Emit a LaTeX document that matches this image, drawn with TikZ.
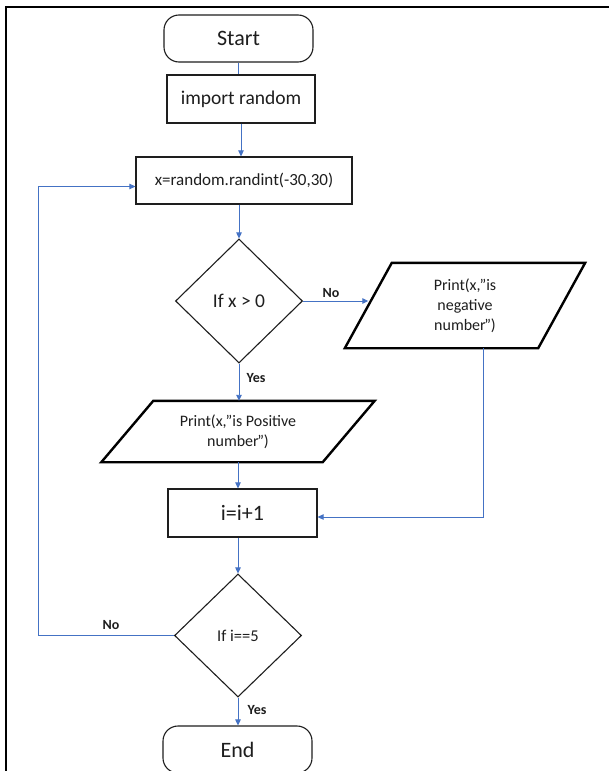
\documentclass[tikz,border=0pt]{standalone}
\usepackage{fontspec}
\setmainfont{Carlito}
\usetikzlibrary{shapes.geometric,arrows.meta}
\definecolor{flowblue}{RGB}{68,114,196}
\definecolor{inkgrey}{RGB}{30,30,30}
\newcommand{\closeq}{\kern-1.5pt”}
\begin{document}
\begin{tikzpicture}[x=1pt,y=-1pt,
  every node/.style={text=inkgrey, inner sep=0pt, align=center},
  term/.style={draw=inkgrey, line width=1.1pt, rounded corners=15pt,
               minimum width=149pt, minimum height=47pt,
               font=\fontsize{22}{26}\selectfont},
  proc/.style={draw=inkgrey, line width=1.2pt, minimum height=48pt},
  decide/.style={diamond, draw=inkgrey, line width=1.1pt,
                 minimum width=127pt, minimum height=124pt},
  iotext/.style={draw=none, font=\fontsize{16}{20}\selectfont},
  iobox/.style={draw=black, line width=2.4pt, line join=miter},
  link/.style={draw=flowblue, line width=0.9pt},
  arrowlink/.style={link, -{Triangle[length=6pt,width=5.5pt]}},
  flag/.style={font=\bfseries\fontsize{14}{16}\selectfont}
]
\useasboundingbox (0,0) rectangle (608,771);
\fill[white] (0,0) rectangle (608,771);

% outer frame (top and left edges)
\draw[line width=2pt, line cap=rect] (6,771) -- (6,7) -- (608,7);

% main column
\node[term] (start) at (238.5,38.5) {Start};
\node[proc, minimum width=148pt, font=\fontsize{19.5}{23}\selectfont]
  (imp) at (241,99) {import random};
\node[proc, minimum width=216pt, minimum height=47pt, font=\fontsize{17}{20}\selectfont]
  (xbox) at (244,180.5) {x=random.randint(-30,30)};
\node[decide, font=\fontsize{19.5}{23}\selectfont] (d1) at (239,301) {If x > 0};

% output parallelograms: text node plus slanted outline
\node[iotext, minimum width=221pt, minimum height=61pt]
  (pos) at (238,431.5) {Print(x,”is Positive\\number\closeq)};
\draw[iobox] ([xshift=26pt]pos.north west) -- ([xshift=26pt]pos.north east)
  -- ([xshift=-26pt]pos.south east) -- ([xshift=-26pt]pos.south west) -- cycle;

\node[iotext, minimum width=193pt, minimum height=85pt]
  (neg) at (465,305.5) {Print(x,”is\\negative\\number\closeq)};
\draw[iobox] ([xshift=23.5pt]neg.north west) -- ([xshift=23.5pt]neg.north east)
  -- ([xshift=-23.5pt]neg.south east) -- ([xshift=-23.5pt]neg.south west) -- cycle;

\node[proc, minimum width=149pt, font=\fontsize{22}{26}\selectfont]
  (inc) at (242.5,513) {i=i+1};
\node[decide, minimum height=123pt, font=\fontsize{16.5}{20}\selectfont]
  (d2) at (238,635.5) {If i==5};
\node[term] (end) at (237.5,749.5) {End};

% connectors
\draw[link] (start.south) -- (start.south |- imp.north);
\draw[arrowlink] (imp.south) -- (imp.south |- xbox.north);
\draw[arrowlink] (d1.north |- xbox.south) -- (d1.north);
\draw[arrowlink] (d1.east) -- (d1.east -| neg.west);
\draw[arrowlink] (d1.south) -- (d1.south |- pos.north);
\draw[arrowlink] (pos.south) -- (pos.south |- inc.north);
\coordinate (negout) at ([xshift=18pt]neg.south);
\coordinate (incin) at ([yshift=-4pt]inc.east);
\draw[arrowlink] (negout) |- (incin);
\draw[arrowlink] (d2.north |- inc.south) -- (d2.north);
\draw[arrowlink] (d2.south) -- (d2.south |- end.north);
\coordinate (xin) at ([yshift=-6pt]xbox.west);
\draw[arrowlink] (d2.west) -- ++(-136pt,0) |- (xin);

% branch labels
\node[flag] (no1) at (331,293) {No};
\node[flag] (yes1) at (256,378) {Yes};
\node[flag] (no2) at (111,625) {No};
\node[flag] (yes2) at (257,710) {Yes};
\end{tikzpicture}
\end{document}
